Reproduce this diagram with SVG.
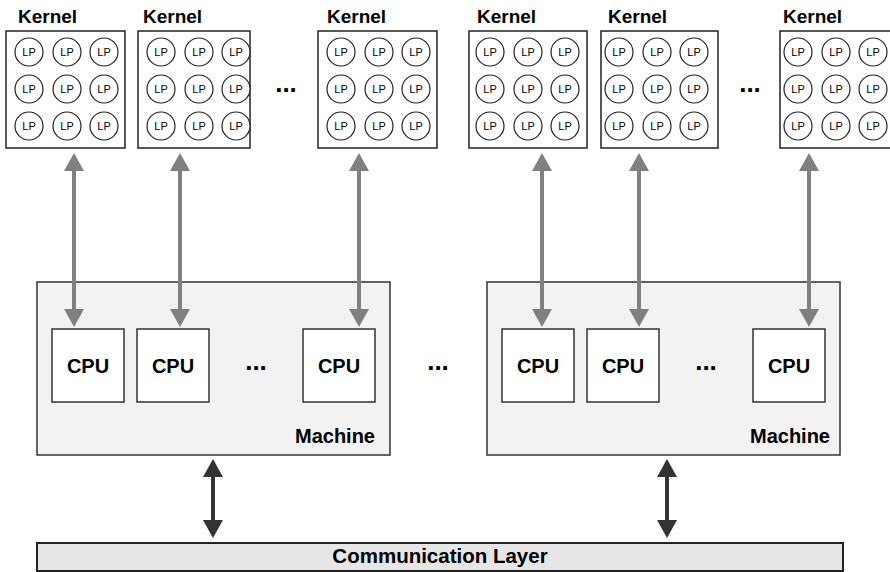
<svg xmlns="http://www.w3.org/2000/svg" width="890" height="572" viewBox="0 0 890 572">
  <style>
    text { font-family: "Liberation Sans", Arial, sans-serif; fill: #000; }
    .kbox { fill: #fff; stroke: #222; stroke-width: 1.5; }
    .lp circle { fill: #fff; stroke: #222; stroke-width: 1.2; }
    .lp text { font-size: 11px; text-anchor: middle; }
    .klabel { font-size: 19px; font-weight: bold; }
    .machine { fill: #f2f2f2; stroke: #333; stroke-width: 1.5; }
    .cpu { fill: #fff; stroke: #333; stroke-width: 1.5; }
    .cpulabel { font-size: 20px; font-weight: bold; text-anchor: middle; }
    .mlabel { font-size: 20px; font-weight: bold; text-anchor: end; }
    .dots { font-size: 26px; font-weight: bold; text-anchor: middle; }
    .comm { fill: #e6e6e6; stroke: #222; stroke-width: 2; }
    .commlabel { font-size: 20.5px; font-weight: bold; text-anchor: middle; }
    .link { stroke: #808080; stroke-width: 4; fill: none; marker-start: url(#headGray); marker-end: url(#headGray); }
    .bus { stroke: #333; stroke-width: 4; fill: none; marker-start: url(#headDark); marker-end: url(#headDark); }
  </style>
  <defs>
    <marker id="headGray" viewBox="0 0 18 20" markerWidth="18" markerHeight="20" refX="8" refY="10" orient="auto-start-reverse" markerUnits="userSpaceOnUse">
      <path d="M0,0 L18,10 L0,20 Z" fill="#808080"/>
    </marker>
    <marker id="headDark" viewBox="0 0 18 20" markerWidth="18" markerHeight="20" refX="8" refY="10" orient="auto-start-reverse" markerUnits="userSpaceOnUse">
      <path d="M0,0 L18,10 L0,20 Z" fill="#333"/>
    </marker>
    <!-- 3x3 grid of logical processes, origin at the grid's first circle -->
    <g id="lpGrid" class="lp">
      <circle cx="0" cy="0" r="14"/><text x="0" y="4">LP</text>
      <circle cx="38" cy="0" r="14"/><text x="38" y="4">LP</text>
      <circle cx="75" cy="0" r="14"/><text x="75" y="4">LP</text>
      <circle cx="0" cy="37" r="14"/><text x="0" y="41">LP</text>
      <circle cx="38" cy="37" r="14"/><text x="38" y="41">LP</text>
      <circle cx="75" cy="37" r="14"/><text x="75" y="41">LP</text>
      <circle cx="0" cy="74" r="14"/><text x="0" y="78">LP</text>
      <circle cx="38" cy="74" r="14"/><text x="38" y="78">LP</text>
      <circle cx="75" cy="74" r="14"/><text x="75" y="78">LP</text>
    </g>
  </defs>

  <rect width="890" height="572" fill="#fff"/>

  <!-- Kernels -->
  <g id="kernel1">
    <text class="klabel" x="18" y="23">Kernel</text>
    <rect class="kbox" x="6" y="31" width="119" height="117"/>
    <use href="#lpGrid" x="29" y="52"/>
  </g>
  <g id="kernel2">
    <text class="klabel" x="143" y="23">Kernel</text>
    <rect class="kbox" x="138" y="31" width="112" height="117"/>
    <use href="#lpGrid" x="161" y="52"/>
  </g>
  <g id="kernel3">
    <text class="klabel" x="327" y="23">Kernel</text>
    <rect class="kbox" x="318" y="31" width="119" height="117"/>
    <use href="#lpGrid" x="341" y="52"/>
  </g>
  <g id="kernel4">
    <text class="klabel" x="477" y="23">Kernel</text>
    <rect class="kbox" x="469" y="31" width="118" height="117"/>
    <use href="#lpGrid" x="490" y="52"/>
  </g>
  <g id="kernel5">
    <text class="klabel" x="608" y="23">Kernel</text>
    <rect class="kbox" x="601" y="31" width="117" height="117"/>
    <use href="#lpGrid" x="619" y="52"/>
  </g>
  <g id="kernel6">
    <text class="klabel" x="783" y="23">Kernel</text>
    <rect class="kbox" x="780" y="31" width="120" height="117"/>
    <use href="#lpGrid" x="798" y="52"/>
  </g>
  <text class="dots" x="286" y="92">...</text>
  <text class="dots" x="750" y="92">...</text>

  <!-- Machines -->
  <g id="machine1">
    <rect class="machine" x="37" y="282" width="353" height="173"/>
    <text class="mlabel" x="375" y="443">Machine</text>
  </g>
  <g id="machine2">
    <rect class="machine" x="487" y="282" width="353" height="173"/>
    <text class="mlabel" x="830" y="443">Machine</text>
  </g>

  <!-- CPUs -->
  <g id="cpu1"><rect class="cpu" x="52" y="329" width="72" height="73"/><text class="cpulabel" x="88" y="373">CPU</text></g>
  <g id="cpu2"><rect class="cpu" x="137" y="329" width="72" height="73"/><text class="cpulabel" x="173" y="373">CPU</text></g>
  <g id="cpu3"><rect class="cpu" x="303" y="329" width="72" height="73"/><text class="cpulabel" x="339" y="373">CPU</text></g>
  <g id="cpu4"><rect class="cpu" x="502" y="329" width="72" height="73"/><text class="cpulabel" x="538" y="373">CPU</text></g>
  <g id="cpu5"><rect class="cpu" x="587" y="329" width="72" height="73"/><text class="cpulabel" x="623" y="373">CPU</text></g>
  <g id="cpu6"><rect class="cpu" x="753" y="329" width="72" height="73"/><text class="cpulabel" x="789" y="373">CPU</text></g>
  <text class="dots" x="256" y="370">...</text>
  <text class="dots" x="438" y="370">...</text>
  <text class="dots" x="706" y="370">...</text>

  <!-- Communication layer -->
  <g id="commLayer">
    <rect class="comm" x="37" y="543" width="806" height="28"/>
    <text class="commlabel" x="440" y="563">Communication Layer</text>
  </g>

  <!-- Connectors -->
  <g id="connectors">
    <line class="link" x1="74" y1="163" x2="74" y2="317"/>
    <line class="link" x1="180" y1="163" x2="180" y2="317"/>
    <line class="link" x1="359" y1="163" x2="359" y2="317"/>
    <line class="link" x1="542" y1="163" x2="542" y2="317"/>
    <line class="link" x1="639" y1="163" x2="639" y2="317"/>
    <line class="link" x1="809" y1="163" x2="809" y2="317"/>
    <line class="bus" x1="213" y1="469" x2="213" y2="528"/>
    <line class="bus" x1="667" y1="469" x2="667" y2="528"/>
  </g>
</svg>
